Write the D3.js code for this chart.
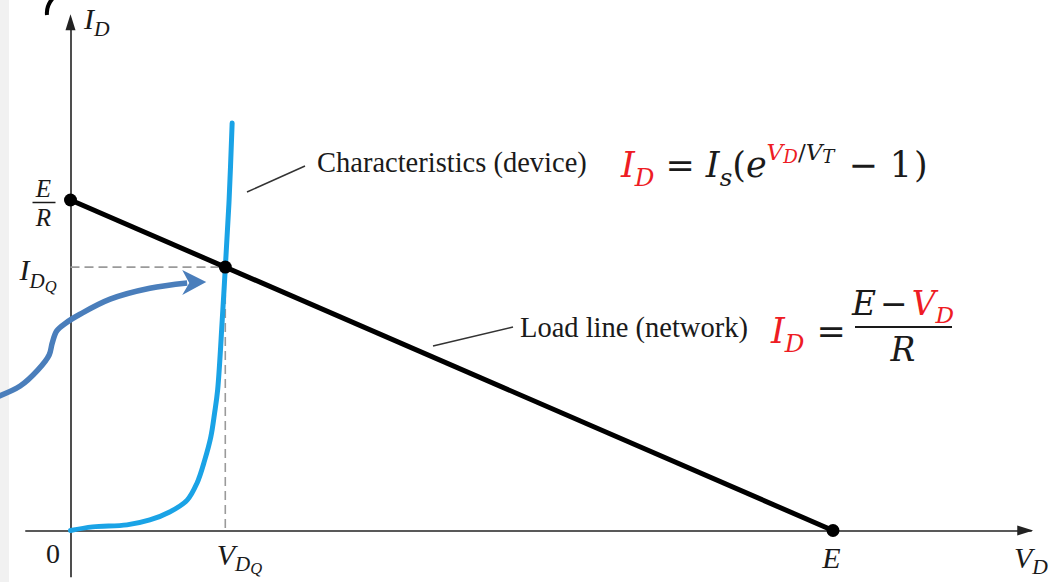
<!DOCTYPE html>
<html>
<head>
<meta charset="utf-8">
<script src="https://cdn.jsdelivr.net/npm/d3@7"></script>
<style>
  html, body { margin: 0; padding: 0; background: #ffffff; }
  svg { display: block; }
  text { font-family: "Liberation Serif", "Times New Roman", serif; fill: #1a1a1a; }
  text.math { font-family: "DejaVu Serif", serif; }
</style>
</head>
<body>
<svg id="chart" width="1055" height="582"></svg>
<script>
// ---- circuit values (E = 10 V, R = 1 kΩ) ----
const E = 10;
const R = 1;
const loadLineV = [0, 10];          // V_D at the two intercepts
const loadLineI = [10, 0];          // I_D at the two intercepts (E/R, 0)
const qPointV = 2.03;               // V_DQ
const qPointI = 7.97;               // I_DQ

// diode characteristic
const diodeV = [0, 0.29, 0.74, 1.04, 1.30, 1.53, 1.66, 1.76, 1.84, 1.89, 1.93, 1.99, 2.03, 2.08, 2.12];
const diodeI = [0, 0.11, 0.17, 0.32, 0.56, 0.92, 1.44, 2.13, 2.83, 3.56, 4.26, 6.37, 7.94, 10.0, 12.33];

// curved call-out arrow pointing at the Q-point
const arrowV = [-1.0, -0.66, -0.43, -0.28, -0.24, -0.18, -0.06, 0.13, 0.52, 1.04, 1.53];
const arrowI = [4.01, 4.37, 4.85, 5.31, 5.67, 6.04, 6.28, 6.55, 7.00, 7.33, 7.49];
const arrowTip = [1.78, 7.52];

// axis tick labels
const xTickValues = [0, qPointV, E];
const yTickValues = [qPointI, E / R];

const red = "#ee1c24";
const svg = d3.select("#chart");
const W = 1055, H = 582;

svg.append("rect").attr("width", W).attr("height", H).attr("fill", "#fff");
svg.append("rect").attr("width", 9).attr("height", H).attr("fill", "#f1f1f1");

const x = d3.scaleLinear().domain([0, 10]).range([70.5, 833]);
const y = d3.scaleLinear().domain([0, 10]).range([530.5, 200]);

// ---- axes ----
const xAxisScale = x.copy().domain([-0.6, 12.6]).range([x(-0.6), x(12.6)]);
const yAxisScale = y.copy().domain([-1.4, 15.5]).range([y(-1.4), y(15.5)]);

const gx = svg.append("g").attr("transform", `translate(0,${y(0)})`)
  .call(d3.axisBottom(xAxisScale).tickValues(xTickValues).tickSize(0).tickSizeOuter(0).tickFormat(""));
const gy = svg.append("g").attr("transform", `translate(${x(0)},0)`)
  .call(d3.axisLeft(yAxisScale).tickValues(yTickValues).tickSize(0).tickSizeOuter(0).tickFormat(""));
[gx, gy].forEach(g => g.select(".domain").attr("stroke", "#222").attr("stroke-width", 1.6));

// arrowheads at axis ends
const xEnd = xAxisScale.range()[1], yEnd = yAxisScale.range()[1];
svg.append("path").attr("d", `M${xEnd + 2},${y(0)} L${xEnd - 14},${y(0) - 5} L${xEnd - 14},${y(0) + 5} Z`).attr("fill", "#222");
svg.append("path").attr("d", `M${x(0)},${yEnd - 4} L${x(0) - 5},${yEnd + 12} L${x(0) + 5},${yEnd + 12} Z`).attr("fill", "#222");

// rich text helper: parts = [{t, it, c, dy (em, down positive), dx (px), s (size factor)}]
function rich(sel, parts, size) {
  let cur = 0;
  parts.forEach(p => {
    const off = (p.dy || 0) * size;
    sel.append("tspan")
      .attr("dy", off - cur)
      .attr("dx", p.dx || 0)
      .style("font-size", (size * (p.s || 1)) + "px")
      .style("font-style", p.it ? "italic" : "normal")
      .style("fill", p.c || "#1a1a1a")
      .text(p.t);
    cur = off;
  });
}

// x tick labels
const labelSize = 30;
gx.selectAll(".tick text").each(function (d) {
  const t = d3.select(this).attr("dy", null).attr("fill", null).style("font-size", labelSize + "px");
  t.text(null);
  if (d === 0) {
    t.attr("x", -18).attr("y", 32).attr("text-anchor", "middle");
    rich(t, [{ t: "0" }], 28);
  } else if (d === qPointV) {
    t.attr("x", -9).attr("y", 34).attr("text-anchor", "start");
    rich(t, [{ t: "V", it: 1 }, { t: "D", it: 1, s: 0.7, dy: 0.2 }, { t: "Q", it: 1, s: 0.55, dy: 0.3 }], labelSize);
  } else {
    t.attr("x", -2).attr("y", 37).attr("text-anchor", "middle");
    rich(t, [{ t: "E", it: 1 }], labelSize);
  }
});

// y tick labels
gy.selectAll(".tick text").each(function (d) {
  const t = d3.select(this).attr("dy", null).attr("fill", null).style("font-size", labelSize + "px");
  t.text(null);
  if (d === qPointI) {
    t.attr("x", -51).attr("y", 12).attr("text-anchor", "start");
    rich(t, [{ t: "I", it: 1 }, { t: "D", it: 1, s: 0.7, dy: 0.28 }, { t: "Q", it: 1, s: 0.55, dy: 0.4 }], labelSize);
  } else {
    // E over R, as one stacked text
    t.attr("text-anchor", "middle").style("font-size", "25px").style("font-style", "italic");
    t.append("tspan").attr("x", -27).attr("y", -4).text("E");
    t.append("tspan").attr("x", -27).attr("y", 25).text("R");
    d3.select(this.parentNode).append("line").attr("x1", -38).attr("x2", -15).attr("y1", 2).attr("y2", 2)
      .attr("stroke", "#1a1a1a").attr("stroke-width", 1.5);
  }
});

// axis titles
rich(svg.append("text").attr("x", 84).attr("y", 29), [{ t: "I", it: 1 }, { t: "D", it: 1, s: 0.72, dy: 0.22 }], labelSize);
rich(svg.append("text").attr("x", 1014).attr("y", 568), [{ t: "V", it: 1 }, { t: "D", it: 1, s: 0.72, dy: 0.2 }], labelSize);

// ---- dashed projections of the Q-point ----
svg.append("line").attr("x1", x(0)).attr("x2", x(qPointV)).attr("y1", y(qPointI)).attr("y2", y(qPointI))
  .attr("stroke", "#9a9a9a").attr("stroke-width", 1.6).attr("stroke-dasharray", "9,5");
svg.append("line").attr("x1", x(qPointV)).attr("x2", x(qPointV)).attr("y1", y(qPointI)).attr("y2", y(0))
  .attr("stroke", "#9a9a9a").attr("stroke-width", 1.6).attr("stroke-dasharray", "9,5");

// ---- diode characteristic ----
const diode = diodeV.map((v, i) => [v, diodeI[i]]);
svg.append("path").datum(diode)
  .attr("d", d3.line().x(d => x(d[0])).y(d => y(d[1])).curve(d3.curveCatmullRom.alpha(0.5)))
  .attr("fill", "none").attr("stroke", "#1aa3e6").attr("stroke-width", 5).attr("stroke-linecap", "round");

// ---- load line ----
const load = loadLineV.map((v, i) => [v, loadLineI[i]]);
svg.append("path").datum(load)
  .attr("d", d3.line().x(d => x(d[0])).y(d => y(d[1])))
  .attr("fill", "none").attr("stroke", "#000").attr("stroke-width", 5);

// end points and Q-point
const dots = [[0, E / R], [E, 0], [qPointV, qPointI]];
svg.selectAll("circle.pt").data(dots).join("circle").attr("class", "pt")
  .attr("cx", d => x(d[0])).attr("cy", d => y(d[1])).attr("r", 6.5).attr("fill", "#000");

// ---- call-out arrow ----
const arrowPts = arrowV.map((v, i) => [v, arrowI[i]]);
const arrowColor = "#4a7ebb";
svg.append("path").datum(arrowPts)
  .attr("d", d3.line().x(d => x(d[0])).y(d => y(d[1])).curve(d3.curveCatmullRom.alpha(0.5)))
  .attr("fill", "none").attr("stroke", arrowColor).attr("stroke-width", 5.5);
const tx = x(arrowTip[0]), ty = y(arrowTip[1]);
svg.append("path")
  .attr("d", `M${tx},${ty} L${tx - 24},${ty - 12} L${tx - 17},${ty + 1} L${tx - 24},${ty + 13} Z`)
  .attr("fill", arrowColor);

// ---- annotations ----
svg.append("line").attr("x1", 247).attr("y1", 192).attr("x2", 305).attr("y2", 166)
  .attr("stroke", "#333").attr("stroke-width", 1.5);
svg.append("text").attr("x", 317).attr("y", 172).style("font-size", "28.5px").text("Characteristics (device)");

svg.append("line").attr("x1", 433).attr("y1", 346).attr("x2", 513).attr("y2", 327)
  .attr("stroke", "#333").attr("stroke-width", 1.5);
svg.append("text").attr("x", 520).attr("y", 337).style("font-size", "28.5px").text("Load line (network)");

// Shockley equation
const fs = 35;
rich(svg.append("text").attr("class", "math").attr("x", 621).attr("y", 177), [
  { t: "I", it: 1, c: red }, { t: "D", it: 1, c: red, s: 0.7, dy: 0.25 },
  { t: "=", dx: 11 }, { t: "I", it: 1, dx: 11 }, { t: "s", it: 1, s: 0.7, dy: 0.25 },
  { t: "(" }, { t: "e", it: 1 },
  { t: "V", it: 1, c: red, s: 0.66, dy: -0.5 }, { t: "D", it: 1, c: red, s: 0.52, dy: -0.4 },
  { t: "/", s: 0.66, dy: -0.5 }, { t: "V", it: 1, s: 0.66, dy: -0.5 }, { t: "T", it: 1, s: 0.52, dy: -0.4 },
  { t: "−", dx: 14 }, { t: "1", dx: 12 }, { t: ")", dx: 2 }
], fs);

// load-line equation
rich(svg.append("text").attr("class", "math").attr("x", 771).attr("y", 343), [
  { t: "I", it: 1, c: red }, { t: "D", it: 1, c: red, s: 0.7, dy: 0.25 }, { t: "=", dx: 12 }
], fs);
rich(svg.append("text").attr("class", "math").attr("x", 903).attr("y", 315).attr("text-anchor", "middle"), [
  { t: "E", it: 1 }, { t: "−", dx: 4 }, { t: "V", it: 1, c: red, dx: 4 }, { t: "D", it: 1, c: red, s: 0.7, dy: 0.25 }
], 33);
svg.append("line").attr("x1", 855).attr("x2", 952).attr("y1", 327).attr("y2", 327)
  .attr("stroke", "#1a1a1a").attr("stroke-width", 2);
svg.append("text").attr("class", "math").attr("x", 903).attr("y", 361).attr("text-anchor", "middle")
  .style("font-size", "33px").style("font-style", "italic").text("R");

// clipped bracket stroke at the top-left edge
svg.append("path").attr("d", "M53,-2 Q46,6 47,15").attr("fill", "none")
  .attr("stroke", "#000").attr("stroke-width", 4);
</script>
</body>
</html>
